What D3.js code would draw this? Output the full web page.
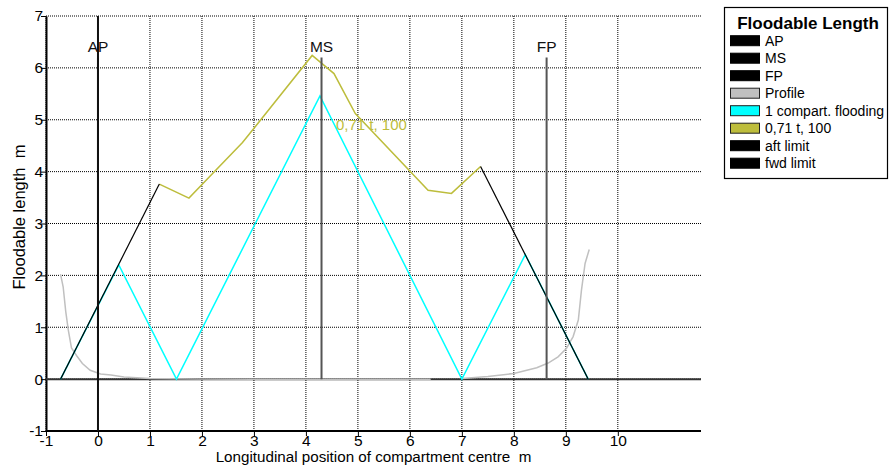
<!DOCTYPE html>
<html>
<head>
<meta charset="utf-8">
<script src="https://cdn.jsdelivr.net/npm/d3@7"></script>
<style>
    body { margin: 0; background: #fff; }
    text { font-family: "Liberation Sans", Arial, sans-serif; white-space: pre; }
</style>
</head>
<body>
<script>
// tick values for both axes
var xTicks = [-1, 0, 1, 2, 3, 4, 5, 6, 7, 8, 9, 10];
var yTicks = [-1, 0, 1, 2, 3, 4, 5, 6, 7];

// hull profile (grey), null marks the hidden gap
var profile = [
    [-0.72, 2.02], [-0.67, 1.78], [-0.62, 1.30], [-0.57, 0.94], [-0.51, 0.60],
    [-0.41, 0.45], [-0.30, 0.30], [-0.15, 0.17], [0.05, 0.10], [0.25, 0.08],
    [0.50, 0.04], [1.00, 0.01], [2.00, 0.00], [3.00, 0.00], [4.00, 0.00],
    [5.00, 0.00], [6.40, 0.00], [6.70, null],
    [7.00, 0.01], [7.50, 0.05], [8.00, 0.11], [8.44, 0.22], [8.66, 0.31],
    [8.85, 0.43], [9.01, 0.59], [9.14, 0.82], [9.24, 1.14], [9.30, 1.71],
    [9.37, 2.23], [9.45, 2.50]
];

// 1 compartment flooding (cyan)
var oneComp = [[-0.72, 0], [0.40, 2.20], [1.51, 0], [4.27, 5.46], [7.00, 0], [8.22, 2.40], [9.43, 0]];

// floodable length curve 0,71 t, 100 (olive)
var floodCurve = [
    [1.18, 3.76], [1.75, 3.49], [2.78, 4.56], [4.12, 6.24], [4.54, 5.89],
    [4.95, 5.12], [6.35, 3.64], [6.80, 3.58], [7.36, 4.10]
];

// aft / fwd limit lines (black)
var aftLimit = [[-0.72, 0], [1.18, 3.76]];
var fwdLimit = [[7.36, 4.10], [9.43, 0]];

// perpendicular marks
var marks = [
    { name: "AP", x: 0 },
    { name: "MS", x: 4.3 },
    { name: "FP", x: 8.63 }
];
var markTop = 6.2;

var legendItems = [
    { name: "AP", fill: "#000", stroke: "#000" },
    { name: "MS", fill: "#000", stroke: "#000" },
    { name: "FP", fill: "#000", stroke: "#000" },
    { name: "Profile", fill: "#c0c0c0", stroke: "#222" },
    { name: "1 compart. flooding", fill: "#00ffff", stroke: "#222" },
    { name: "0,71 t, 100", fill: "#bdbd3c", stroke: "#222" },
    { name: "aft limit", fill: "#000", stroke: "#000" },
    { name: "fwd limit", fill: "#000", stroke: "#000" }
];

var w = 889, h = 470;
var pLeft = 46, pRight = 701, pTop = 16, pBottom = 431;   // plot frame

var svg = d3.select("body").append("svg")
    .attr("width", w)
    .attr("height", h);

var x = d3.scaleLinear().domain([-1, 11.6]).range([pLeft, pRight]);
var y = d3.scaleLinear().domain([-1, 7]).range([pBottom, pTop]);

// dotted grid
svg.append("g").selectAll("line")
    .data(xTicks)
    .enter().append("line")
    .attr("x1", function(d){ return x(d); })
    .attr("x2", function(d){ return x(d); })
    .attr("y1", pTop).attr("y2", pBottom)
    .style("stroke", "#000").style("stroke-width", 1)
    .style("stroke-dasharray", "1,1");

svg.append("g").selectAll("line")
    .data(yTicks)
    .enter().append("line")
    .attr("x1", pLeft).attr("x2", pRight)
    .attr("y1", function(d){ return y(d); })
    .attr("y2", function(d){ return y(d); })
    .style("stroke", "#000").style("stroke-width", 1)
    .style("stroke-dasharray", "1,1");

// axes (plain hyphen minus like the original)
var fmt = function(d){ return String(d); };

var xAxis = svg.append("g")
    .attr("transform", "translate(0," + pBottom + ")")
    .call(d3.axisBottom(x).tickValues(xTicks).tickFormat(fmt).tickSize(5).tickSizeOuter(0));
xAxis.select(".domain").attr("d", "M" + pLeft + ",0H" + pRight).style("stroke-width", 2);
xAxis.selectAll("text").style("font-size", "15.5px").attr("y", 3).attr("dy", "0.75em");

var yAxis = svg.append("g")
    .attr("transform", "translate(" + pLeft + ",0)")
    .call(d3.axisLeft(y).tickValues(yTicks).tickFormat(fmt).tickSize(5).tickSizeOuter(0));
yAxis.select(".domain").style("stroke-width", 2);
yAxis.selectAll("text").style("font-size", "15.5px").attr("x", -3);

// zero lines
svg.append("line")
    .attr("x1", pLeft).attr("x2", pRight)
    .attr("y1", y(0)).attr("y2", y(0))
    .style("stroke", "#333").style("stroke-width", 2);
svg.append("line")
    .attr("x1", x(0)).attr("x2", x(0))
    .attr("y1", pTop).attr("y2", pBottom)
    .style("stroke", "#111").style("stroke-width", 2);

var line = d3.line()
    .defined(function(d){ return d[1] !== null; })
    .x(function(d){ return x(d[0]); })
    .y(function(d){ return y(d[1]); });

svg.append("path").datum(profile)
    .attr("d", line)
    .style("fill", "none").style("stroke", "#c0c0c0").style("stroke-width", 1.5);

svg.append("path").datum(oneComp)
    .attr("d", line)
    .style("fill", "none").style("stroke", "#00ffff").style("stroke-width", 1.5);

svg.append("path").datum(floodCurve)
    .attr("d", line)
    .style("fill", "none").style("stroke", "#bdbd3c").style("stroke-width", 1.5);

[aftLimit, fwdLimit].forEach(function(seg){
    svg.append("path").datum(seg)
        .attr("d", line)
        .style("fill", "none").style("stroke", "#000").style("stroke-width", 1.2);
});

// AP / MS / FP lines and labels
svg.selectAll(".mark")
    .data(marks)
    .enter().append("line")
    .attr("class", "mark")
    .attr("x1", function(d){ return x(d.x); })
    .attr("x2", function(d){ return x(d.x); })
    .attr("y1", y(0)).attr("y2", y(markTop))
    .style("stroke", function(d){ return d.x === 0 ? "#111" : "#555"; })
    .style("stroke-width", 2);

svg.selectAll(".markLabel")
    .data(marks)
    .enter().append("text")
    .attr("class", "markLabel")
    .attr("x", function(d){ return x(d.x); })
    .attr("y", 52)
    .attr("text-anchor", "middle")
    .style("font-size", "15.5px")
    .style("fill", "#111")
    .text(function(d){ return d.name; });

// curve label
svg.append("text")
    .attr("x", 336).attr("y", 129.5)
    .style("font-size", "15px")
    .style("fill", "#bdbd3c")
    .text("0,71 t, 100");

// axis titles
svg.append("text")
    .attr("x", (pLeft + pRight) / 2).attr("y", 462)
    .attr("text-anchor", "middle")
    .style("font-size", "15.2px")
    .text("Longitudinal position of compartment centre  m");

svg.append("text")
    .attr("transform", "translate(25,217) rotate(-90)")
    .attr("text-anchor", "middle")
    .style("font-size", "16.5px")
    .text("Floodable length  m");

// legend
var legend = svg.append("g");
legend.append("rect")
    .attr("x", 724.5).attr("y", 7.5)
    .attr("width", 163).attr("height", 171)
    .style("fill", "#fff").style("stroke", "#000").style("stroke-width", 1.2);

legend.append("text")
    .attr("x", 808).attr("y", 29)
    .attr("text-anchor", "middle")
    .style("font-size", "17px").style("font-weight", "bold")
    .text("Floodable Length");

var rows = legend.selectAll(".row")
    .data(legendItems)
    .enter().append("g")
    .attr("class", "row")
    .attr("transform", function(d, i){ return "translate(0," + (40.7 + i * 17.5) + ")"; });

rows.append("rect")
    .attr("x", 730.5).attr("y", -5)
    .attr("width", 29).attr("height", 10)
    .style("fill", function(d){ return d.fill; })
    .style("stroke", function(d){ return d.stroke; });

rows.append("text")
    .attr("x", 765).attr("y", 5)
    .style("font-size", "14px")
    .text(function(d){ return d.name; });
</script>
</body>
</html>
